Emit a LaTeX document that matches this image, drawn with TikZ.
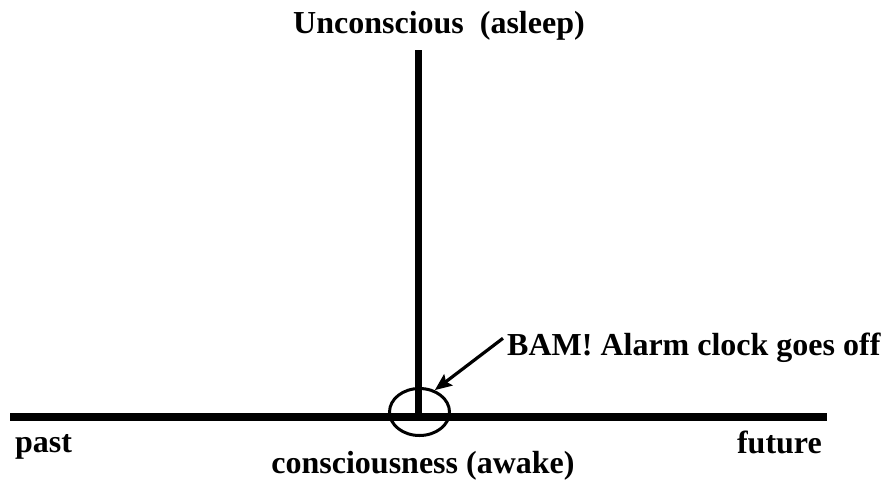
\documentclass[tikz,border=0pt]{standalone}
\usepackage{fontspec}
\setmainfont{Liberation Serif}
\usetikzlibrary{shapes.geometric,arrows.meta}

\begin{document}
\begin{tikzpicture}[
  x=1pt, y=-1pt,
  axis/.style={line width=7.5pt},
  lbl/.style={font=\fontsize{32}{37}\selectfont\bfseries, inner sep=0pt},
  ring/.style={draw, ellipse, line width=3pt, minimum width=60pt,
               minimum height=47pt, inner sep=0pt},
  arrow/.style={-{Stealth[length=17pt, width=14pt, inset=3pt]}, line width=3.2pt}
]
\useasboundingbox (0,0) rectangle (886,480);
\coordinate (pastend)   at (10,417);
\coordinate (futureend) at (827,417);
\coordinate (now)       at (418.5,417);
\coordinate (sleep)     at (418.5,50);

\draw[axis] (pastend) -- (futureend);
\draw[axis] (now) -- (sleep);
\node[ring] (wake) at (419.5,412) {};

\node[lbl, anchor=base west] (asleep) at (293,33)  {Unconscious\ \ (asleep)};
\node[lbl, anchor=base west] (bam)    at (507,355) {BAM! Alarm clock goes off};
\node[lbl, anchor=base west] (past)   at (15,452)  {past};
\node[lbl, anchor=base east] (future) at (822,453) {future};
\node[lbl, anchor=base]      (awake)  at (423,473) {consciousness (awake)};

\draw[arrow] ([shift={(-4,6)}]bam.north west) -- (wake.55);
\end{tikzpicture}
\end{document}
